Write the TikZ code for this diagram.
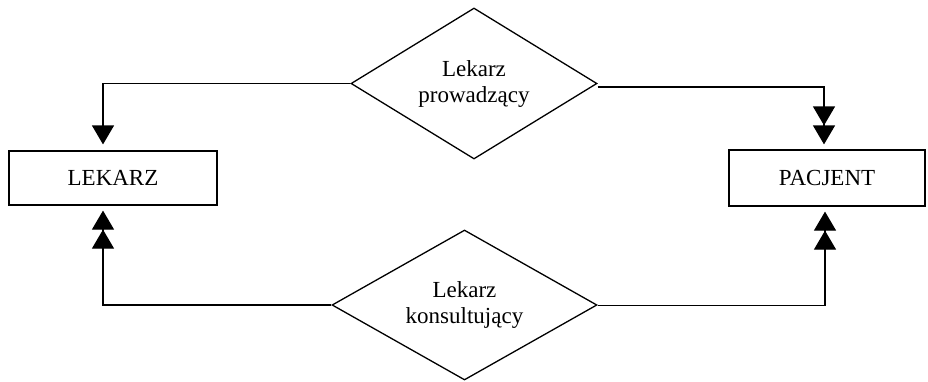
\documentclass[tikz,border=0pt]{standalone}
\usepackage{fontspec}
\setmainfont{Liberation Serif}
\usetikzlibrary{shapes.geometric,arrows.meta}
\begin{document}
\begin{tikzpicture}[x=1pt,y=-1pt,
  every node/.style={font=\fontsize{23}{26}\selectfont},
  entity/.style={draw,line width=1.2pt,rectangle,inner sep=0pt},
  relation/.style={draw,line width=1.3pt,diamond,aspect=1.6,inner sep=0pt,align=center},
  link/.style={line width=1.2pt},
  head/.style={-{Triangle[length=19pt,width=22pt]},shorten >=6pt},
  dhead/.style={-{Triangle[length=19pt,width=22pt]Triangle[length=19pt,width=22pt]},shorten >=5pt}]
  \useasboundingbox (0,0) rectangle (928,381);

  % entities
  \node[entity,minimum width=208pt,minimum height=54pt] (lek) at (113,178) {LEKARZ};
  \node[entity,minimum width=196pt,minimum height=56pt] (pac) at (827,178) {PACJENT};

  % relationships
  \node[relation,minimum width=246pt,minimum height=151pt] (prow) at (474,83.5) {Lekarz\\prowadzący};
  \node[relation,minimum width=265pt,minimum height=150pt] (kons) at (464.5,305) {Lekarz\\konsultujący};

  % bend points of the connectors
  \coordinate (pl) at (103,83.5);
  \coordinate (pr) at (824,87);
  \coordinate (kl) at (103,305);
  \coordinate (kr) at (825,305.5);

  % connectors
  \draw[link,head] (prow.west) -- (pl) -- (pl |- lek.north);
  \draw[link,dhead] (prow.east |- pr) -- (pr) -- (pr |- pac.north);
  \draw[link,dhead] (kons.west) -- (kl) -- (kl |- lek.south);
  \draw[link,dhead] (kons.east |- kr) -- (kr) -- (kr |- pac.south);
\end{tikzpicture}
\end{document}
